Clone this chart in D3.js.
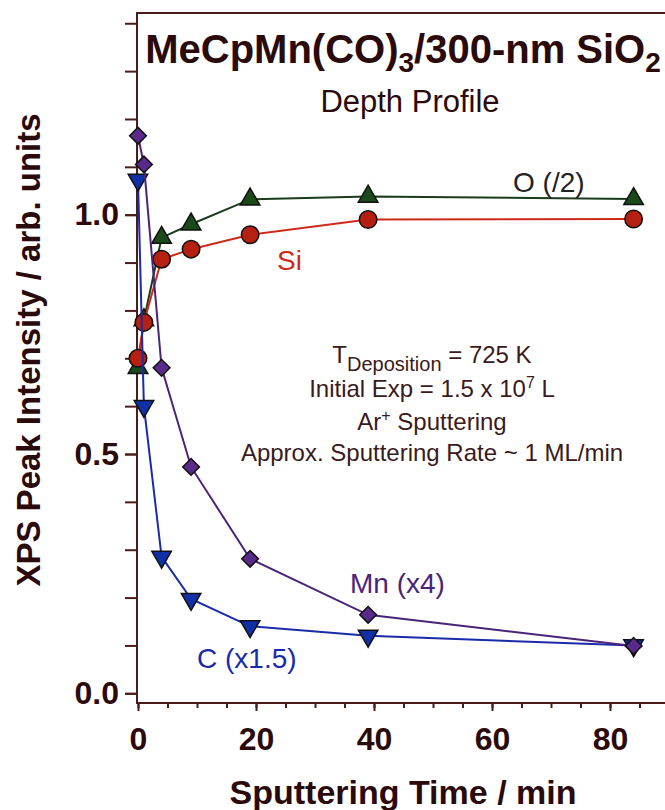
<!DOCTYPE html>
<html>
<head>
  <meta charset="utf-8">
  <script src="https://d3js.org/d3.v7.min.js"></script>
  <style>
    body { margin: 0; background: #fff; }
    svg { display: block; font-family: "Liberation Sans", Arial, Helvetica, sans-serif; }
    .frame { stroke: #4a1c1c; stroke-width: 2px; fill: none; }
    .axis path { display: none; }
    .axis line { stroke: #4a1c1c; stroke-width: 2px; }
    .axis text { font-size: 32px; font-weight: bold; fill: #2a0a0a; }
    .series-line { fill: none; stroke-width: 2px; }
    .marker { stroke: #111; stroke-width: 1.5px; }
  </style>
</head>
<body>
  <svg width="665" height="810"></svg>
  <script>
    // sputtering time (min)
    var times = [0, 1, 4, 9, 19, 39, 84];

    // peak intensities (arb. units), scaled as in the labels
    var oValues  = [0.68, 0.78, 0.952, 0.98, 1.032, 1.038, 1.033];
    var siValues = [0.70, 0.775, 0.907, 0.928, 0.958, 0.990, 0.991];
    var cValues  = [1.073, 0.60, 0.285, 0.197, 0.14, 0.12, 0.10];
    var mnValues = [1.165, 1.105, 0.68, 0.473, 0.281, 0.164, 0.099];

    var xMajorTicks = [0, 20, 40, 60, 80];
    var yMajorTicks = [0, 0.5, 1.0];

    var svg = d3.select("svg");

    var plotLeft = 137, plotTop = 13, plotBottom = 703, plotRight = 665;

    var x = d3.scaleLinear().domain([0, 80]).range([138, 610]);
    var y = d3.scaleLinear().domain([0, 1]).range([693.3, 214.7]);

    // x axis: minor ticks every 5, labels every 20
    svg.append("g")
      .attr("class", "axis")
      .attr("transform", "translate(0," + plotBottom + ")")
      .call(d3.axisBottom(x).tickValues(d3.range(0, 90, 5)).tickSize(5).tickFormat(""));

    svg.append("g")
      .attr("class", "axis")
      .attr("transform", "translate(0," + plotBottom + ")")
      .call(d3.axisBottom(x).tickValues(xMajorTicks).tickSize(8).tickPadding(16).tickFormat(d3.format("d")));

    // y axis: ticks every 0.1, labels every 0.5
    svg.append("g")
      .attr("class", "axis")
      .attr("transform", "translate(" + plotLeft + ",0)")
      .call(d3.axisLeft(y).tickValues(d3.range(0, 1.45, 0.1)).tickSize(12).tickFormat(""));

    svg.append("g")
      .attr("class", "axis")
      .attr("transform", "translate(" + plotLeft + ",0)")
      .call(d3.axisLeft(y).tickValues(yMajorTicks).tickSize(12).tickPadding(6).tickFormat(d3.format(".1f")));

    // frame (left + top + bottom; the right side runs off the picture)
    svg.append("path")
      .attr("class", "frame")
      .attr("d", "M" + plotRight + "," + plotTop + "H" + plotLeft + "V" + plotBottom + "H" + plotRight);

    // axis titles
    svg.append("text")
      .attr("transform", "translate(40,350) rotate(-90)")
      .attr("text-anchor", "middle")
      .style("font-size", "33px").style("font-weight", "bold").style("fill", "#2a0a0a")
      .text("XPS Peak Intensity / arb. units");

    svg.append("text")
      .attr("x", 403).attr("y", 804)
      .attr("text-anchor", "middle")
      .style("font-size", "34px").style("font-weight", "bold").style("fill", "#2a0a0a")
      .text("Sputtering Time / min");

    // chart title
    var title = svg.append("text")
      .attr("x", 403).attr("y", 63)
      .attr("text-anchor", "middle")
      .style("font-size", "40px").style("font-weight", "bold").style("fill", "#2a0a0a");
    title.append("tspan").text("MeCpMn(CO)");
    title.append("tspan").attr("dy", 9).style("font-size", "28px").text("3");
    title.append("tspan").attr("dy", -9).text("/300-nm SiO");
    title.append("tspan").attr("dy", 9).style("font-size", "28px").text("2");

    svg.append("text")
      .attr("x", 410).attr("y", 112)
      .attr("text-anchor", "middle")
      .style("font-size", "31px").style("fill", "#2a0a0a")
      .text("Depth Profile");

    // series
    var series = [
      { name: "O",  values: oValues,  line: "#1c3a1c", fill: "#1a4a1a", symbol: d3.symbolTriangle, size: 165, rotate: 0 },
      { name: "Si", values: siValues, line: "#cc2a1a", fill: "#b52010", symbol: d3.symbolCircle,   size: 240, rotate: 0 },
      { name: "C",  values: cValues,  line: "#1a2aa8", fill: "#1030a8", symbol: d3.symbolTriangle, size: 165, rotate: 180 },
      { name: "Mn", values: mnValues, line: "#4a2478", fill: "#5a2a8a", symbol: d3.symbolSquare,   size: 140, rotate: 45 }
    ];

    var line = d3.line()
      .x(function(d) { return x(d[0]); })
      .y(function(d) { return y(d[1]); });

    series.forEach(function(s) {
      var pts = times.map(function(t, i) { return [t, s.values[i]]; });
      var g = svg.append("g");
      g.append("path")
        .datum(pts)
        .attr("class", "series-line")
        .attr("stroke", s.line)
        .attr("d", line);
      g.selectAll("path.marker")
        .data(pts)
        .enter().append("path")
        .attr("class", "marker")
        .attr("fill", s.fill)
        .attr("d", d3.symbol().type(s.symbol).size(s.size))
        .attr("transform", function(d) {
          return "translate(" + x(d[0]) + "," + y(d[1]) + ") rotate(" + s.rotate + ")";
        });
    });

    // series labels
    var labels = [
      { text: "O (/2)",   x: 513, y: 192, color: "#222222" },
      { text: "Si",       x: 277, y: 270, color: "#cc2a1a" },
      { text: "Mn (x4)",  x: 350, y: 593, color: "#4a2478" },
      { text: "C (x1.5)", x: 197, y: 668, color: "#1a2aa8" }
    ];
    labels.forEach(function(l) {
      svg.append("text")
        .attr("x", l.x).attr("y", l.y)
        .style("font-size", "28px").style("fill", l.color)
        .text(l.text);
    });

    // experiment notes
    var noteX = 432;
    var n1 = svg.append("text").attr("x", noteX).attr("y", 363).attr("text-anchor", "middle")
      .style("font-size", "24px").style("fill", "#3a1a1a");
    n1.append("tspan").text("T");
    n1.append("tspan").attr("dy", 8).style("font-size", "20px").text("Deposition");
    n1.append("tspan").attr("dy", -8).text(" = 725 K");

    var n2 = svg.append("text").attr("x", noteX).attr("y", 397).attr("text-anchor", "middle")
      .style("font-size", "24px").style("fill", "#3a1a1a");
    n2.append("tspan").text("Initial Exp = 1.5 x 10");
    n2.append("tspan").attr("dy", -9).style("font-size", "16px").text("7");
    n2.append("tspan").attr("dy", 9).text(" L");

    var n3 = svg.append("text").attr("x", noteX).attr("y", 430).attr("text-anchor", "middle")
      .style("font-size", "24px").style("fill", "#3a1a1a");
    n3.append("tspan").text("Ar");
    n3.append("tspan").attr("dy", -9).style("font-size", "16px").text("+");
    n3.append("tspan").attr("dy", 9).text(" Sputtering");

    svg.append("text").attr("x", noteX).attr("y", 461).attr("text-anchor", "middle")
      .style("font-size", "24px").style("fill", "#3a1a1a")
      .text("Approx. Sputtering Rate ~ 1 ML/min");
  </script>
</body>
</html>
